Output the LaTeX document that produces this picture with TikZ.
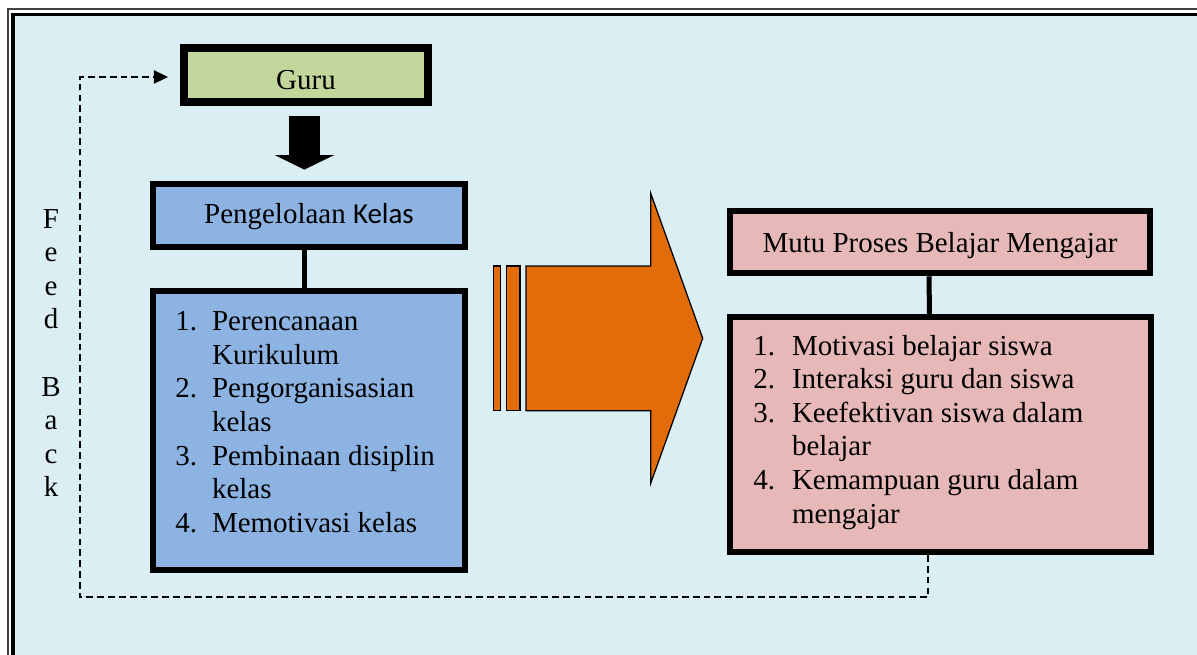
\documentclass[tikz,border=0pt]{standalone}
\usepackage{fontspec}
\setmainfont{Liberation Serif}
\newfontfamily\calibri{Carlito}
\usetikzlibrary{arrows.meta,positioning,calc}
\definecolor{bgblue}{HTML}{DAEEF3}
\definecolor{guruGreen}{HTML}{C3D69B}
\definecolor{kelasBlue}{HTML}{8DB3E2}
\definecolor{mutuPink}{HTML}{E6B9B8}
\definecolor{arrowOrange}{HTML}{E36C0A}
\newcommand{\bigfont}{\fontsize{20.6}{23.9}\selectfont}

\begin{document}
\begin{tikzpicture}[x=0.025cm, y=-0.025cm,
  box/.style={draw=black, line width=0.15cm, inner sep=0pt, font=\bigfont},
  connector/.style={draw=black, line width=0.125cm},
  feedback/.style={draw=black, line width=1.6pt, dash pattern=on 4.8pt off 2.9pt,
    -{Triangle[length=0.35cm, width=0.34cm, line width=0pt]}, shorten >=0.3cm},
  listtext/.style={inner sep=0pt, font=\bigfont, anchor=base west},
  stripe/.style={draw=black, fill=arrowOrange, line width=0.9pt}
]
  % Frame
  \path[use as bounding box, clip] (0,0) rectangle (1197,654);
  \fill[white] (0,0) rectangle (1197,654);
  \fill[bgblue] (13,14) rectangle (1230,690);
  \draw[black!75, line width=0.05cm] (8,9.3) rectangle (1230,690);
  \draw[black, line width=0.075cm] (13,14.3) rectangle (1225,685);

  % Left column
  \node[box, fill=guruGreen, line width=0.2cm, minimum width=6.1cm, minimum height=1.35cm,
    text height=20pt, text depth=0pt] (guru) at (306,75) {Guru};
  \node[box, fill=kelasBlue, minimum width=7.8cm, minimum height=1.575cm,
    text height=14pt, text depth=2pt] (pengelolaan) at (309,215.5) {Pengelolaan {\calibri Kelas}};
  \node[box, fill=kelasBlue, minimum width=7.8cm, minimum height=6.975cm] (kelaslist) at (309,430.5) {};
  \node[listtext] (kelasitems) at (175,330.7) {\begin{tabular}[t]{@{}p{0.92cm}@{}l@{}}
    1. & Perencanaan\\ & Kurikulum\\
    2. & Pengorganisasian\\ & kelas\\
    3. & Pembinaan disiplin\\ & kelas\\
    4. & Memotivasi kelas\end{tabular}};

  % Right column
  \node[box, fill=mutuPink, minimum width=10.49cm, minimum height=1.5625cm,
    text height=14.5pt, text depth=0pt] (mutu) at (940,242) {Mutu Proses Belajar Mengajar};
  \node[box, fill=mutuPink, minimum width=10.5cm, minimum height=5.8625cm] (mutulist) at (940.5,434.75) {};
  \node[listtext] (mutuitems) at (753,355) {\begin{tabular}[t]{@{}p{0.97cm}@{}l@{}}
    1. & Motivasi belajar siswa\\
    2. & Interaksi guru dan siswa\\
    3. & Keefektivan siswa dalam\\ & belajar\\
    4. & Kemampuan guru dalam\\ & mengajar\end{tabular}};

  % Feed back label
  \node[inner sep=0pt, font=\bigfont, anchor=base] (fbtext) at (51,228)
    {\begin{tabular}[t]{@{}c@{}}F\\e\\e\\d\\ \\B\\a\\c\\k\end{tabular}};

  % Connectors
  \draw[line width=0.775cm, -{Triangle[length=0.36cm, width=1.475cm, line width=0pt]},
    shorten <=0.24cm, shorten >=0.285cm]
    ([xshift=-0.04cm]guru.south) -- ([xshift=-0.04cm]guru.south |- pengelolaan.north);
  \draw[connector] ([xshift=-0.125cm]pengelolaan.south) -- ([xshift=-0.125cm]kelaslist.north);
  \draw[connector] ([xshift=-0.275cm]mutu.south) -- ([xshift=-0.275cm]mutulist.north);

  \coordinate (fbturn) at (80,597);
  \draw[feedback] ([xshift=-0.305cm]mutulist.south) |- (fbturn) |- ([yshift=-0.05cm]guru.west);

  % Big orange arrow
  \draw[stripe] (493.3,266) rectangle (500.7,410.7);
  \draw[stripe] (506.7,266) rectangle (520,410.7);
  \draw[stripe] (526,266) -- (650.7,266) -- (650.7,193.3) -- (702.7,338.3)
    -- (650.7,483.3) -- (650.7,410.7) -- (526,410.7) -- cycle;
\end{tikzpicture}
\end{document}
